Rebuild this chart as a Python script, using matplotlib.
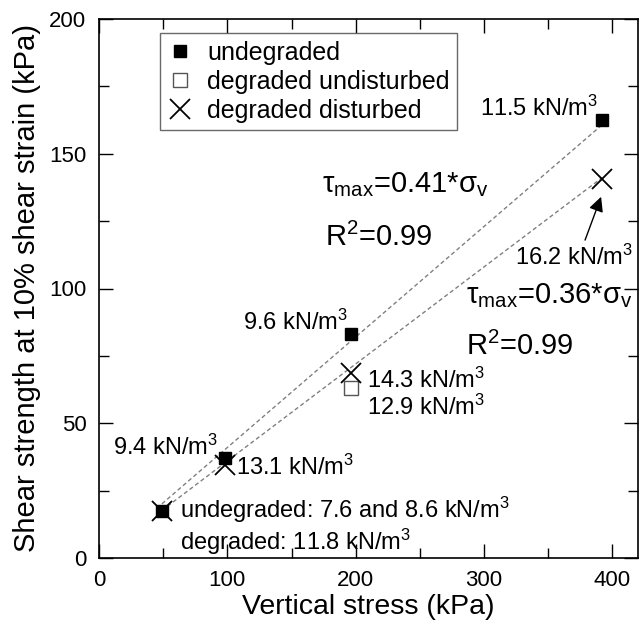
import matplotlib
matplotlib.use("Agg")
import matplotlib.pyplot as plt
import numpy as np

plt.rcParams['font.family'] = ['Liberation Sans', 'DejaVu Sans']
plt.rcParams['mathtext.fontset'] = 'custom'
plt.rcParams['mathtext.rm'] = 'Liberation Sans'
plt.rcParams['mathtext.it'] = 'Liberation Sans'
plt.rcParams['mathtext.bf'] = 'Liberation Sans:bold'

# data
sigma_v = [49, 98, 196, 392]
undegraded = [17.5, 37, 83, 162.5]
undist_x = [196]
degraded_undisturbed = [63]
degraded_disturbed = [17.5, 34.5, 68.5, 140.5]
slope_undeg = 0.41
slope_deg = 0.36

fig = plt.figure(figsize=(6.39, 6.24), dpi=100)
ax = fig.add_axes([99/639, 1-558/624, 539/639, 539/624])

xs = np.array([sigma_v[0], sigma_v[-1]])
ax.plot(xs, slope_undeg*xs, ls=(0, (3, 2)), color='#808080', lw=1, zorder=1)
ax.plot(xs, slope_deg*xs, ls=(0, (3, 2)), color='#808080', lw=1, zorder=1)

ax.plot(sigma_v, undegraded, 's', color='black', ms=8, ls='none', label='undegraded', zorder=3)
ax.plot(undist_x, degraded_undisturbed, 's', mfc='white', mec='#555555', mew=1, ms=10, ls='none',
        label='degraded undisturbed', zorder=2)
ax.plot(sigma_v, degraded_disturbed, 'x', color='black', ms=15, mew=1.3, ls='none',
        label='degraded disturbed', zorder=4)

fs = 17
ax.text(389, 167, '11.5 kN/m$^3$', fontsize=fs, ha='right', va='center')
ax.text(174, 138.5, r'τ$_{\rm max}$=0.41*σ$_{\rm v}$', fontsize=21, ha='left', va='center')
ax.text(176, 119, r'R$^2$=0.99', fontsize=21, ha='left', va='center')
ax.text(324, 111.5, '16.2 kN/m$^3$', fontsize=fs, ha='left', va='center')
ax.annotate('', xy=(392, 135), xytext=(378, 117),
            arrowprops=dict(arrowstyle='-|>', color='black', lw=1, mutation_scale=22))
ax.text(286, 97.5, r'τ$_{\rm max}$=0.36*σ$_{\rm v}$', fontsize=21, ha='left', va='center')
ax.text(286, 78.5, r'R$^2$=0.99', fontsize=21, ha='left', va='center')
ax.text(194, 87.5, '9.6 kN/m$^3$', fontsize=fs, ha='right', va='center')
ax.text(209, 66, '14.3 kN/m$^3$', fontsize=fs, ha='left', va='center')
ax.text(209, 56, '12.9 kN/m$^3$', fontsize=fs, ha='left', va='center')
ax.text(93, 41, '9.4 kN/m$^3$', fontsize=fs, ha='right', va='center')
ax.text(107, 33.5, '13.1 kN/m$^3$', fontsize=fs, ha='left', va='center')
ax.text(63, 17.8, 'undegraded: 7.6 and 8.6 kN/m$^3$', fontsize=fs, ha='left', va='center')
ax.text(63, 6, 'degraded: 11.8 kN/m$^3$', fontsize=fs, ha='left', va='center')

ax.set_xlim(0, 420)
ax.set_ylim(0, 200)
ax.set_xticks([0, 100, 200, 300, 400])
ax.set_xticks([50, 150, 250, 350], minor=True)
ax.set_yticks([0, 50, 100, 150, 200])
ax.set_yticks([25, 75, 125, 175], minor=True)
ax.tick_params(which='both', direction='in', top=True, right=True, labelsize=16, width=1, pad=9)
ax.tick_params(which='major', length=10)
ax.tick_params(which='minor', length=7)
for s in ax.spines.values():
    s.set_linewidth(1.2)

ax.set_xlabel('Vertical stress (kPa)', fontsize=20.5, labelpad=1.5)
ax.set_ylabel('Shear strength at 10% shear strain (kPa)', fontsize=21, labelpad=6)

leg = ax.legend(loc='upper left', bbox_to_anchor=(0.113, 0.974), borderaxespad=0,
                fontsize=18, frameon=True, fancybox=False, edgecolor='#444444',
                labelspacing=0.2, handlelength=1.0, handletextpad=0.6, borderpad=0.3)
leg.get_frame().set_linewidth(1)

fig.savefig('out.png', dpi=100)
